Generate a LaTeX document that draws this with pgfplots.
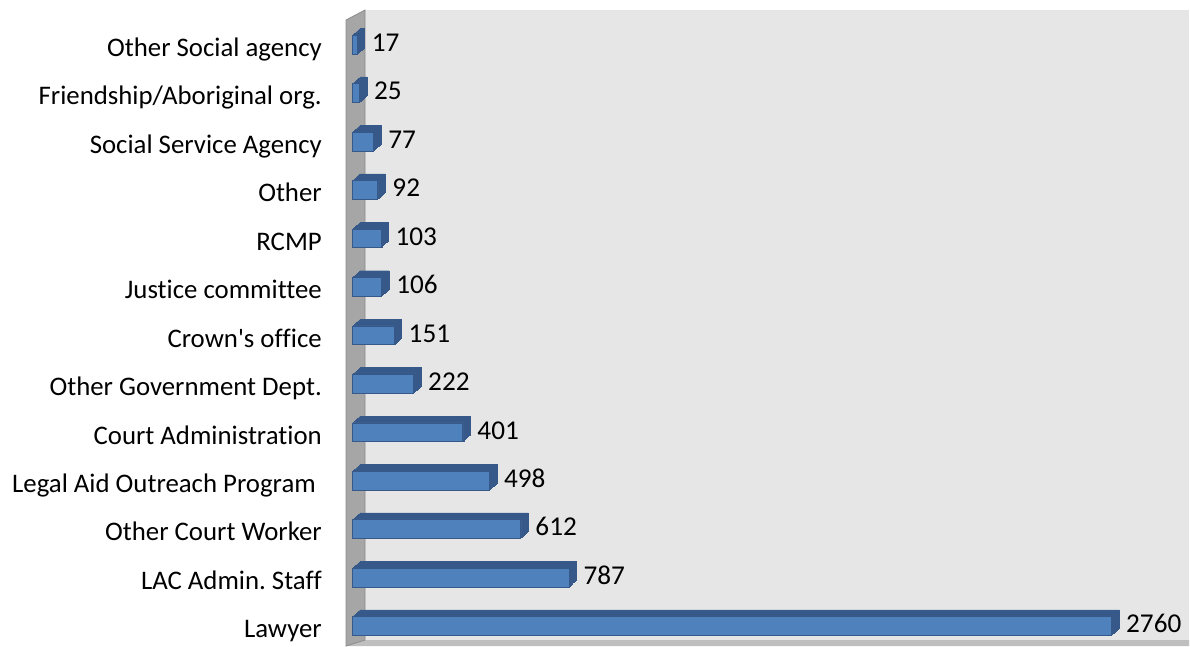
\documentclass[border=0pt]{standalone}
\usepackage{pgfplots}
\usepackage{pgfplotstable}
\pgfplotsset{compat=1.18}
\usepackage{fontspec}
\setmainfont{Carlito}[Ligatures={NoCommon,NoContextual,NoRequired}, Contextuals={NoAlternate}]
\frenchspacing
\definecolor{backwall}{HTML}{E6E6E6}
\definecolor{sidewall}{HTML}{A6A6A6}
\definecolor{sideedge}{HTML}{8C8C8C}
\definecolor{floorc}{HTML}{BFBFBF}
\definecolor{barfront}{HTML}{4F81BD}
\definecolor{bardepth}{HTML}{3A5F8E}
\definecolor{baredge}{HTML}{36598A}
\pgfplotstableread{
c v
0 2760
1 787
2 612
3 498
4 401
5 222
6 151
7 106
8 103
9 92
10 77
11 25
12 17
}\bardata
\begin{document}
\begin{tikzpicture}
\begin{axis}[
  scale only axis,
  width=418.25pt, height=318pt,
  xmin=0, xmax=3041.8,
  ymin=-0.413, ymax=12.714,
  clip=false,
  axis line style={draw=none},
  tick style={draw=none},
  xtick=\empty,
  ytick={0,...,12},
  yticklabels={Lawyer, LAC Admin.\ Staff, Other Court Worker, {Legal Aid Outreach Program\rule{3pt}{0pt}}, Court Administrat\kern0pt ion, Other Government Dept., Crown\textquotesingle s of\kern0pt f\kern0pt ice, Just\kern0pt ice committee, RCMP, Other, Social Service Agency, Friendship/Aboriginal org., Other Social agency},
  yticklabel style={font=\fontsize{13.4}{15}\selectfont, anchor=base east, inner sep=0pt, xshift=-10.9pt, yshift=-5.9pt, text=black},
  /pgf/number format/assume math mode=true,
  /pgf/number format/1000 sep={},
  /pgf/number format/fixed,
  /pgf/number format/precision=0,
  xbar, bar shift=0pt, bar width=0.386,
]
% walls
\fill[backwall] (axis cs:45.5,12.714) rectangle (axis cs:3041.8,-0.289);
\fill[floorc] (axis cs:45.5,-0.289) -- (axis cs:3041.8,-0.289) -- (axis cs:3041.8,-0.413) -- (axis cs:-23.6,-0.413) -- cycle;
\fill[sidewall, draw=sideedge, line width=0.4pt] (axis cs:-23.6,12.508) -- (axis cs:45.5,12.714) -- (axis cs:45.5,-0.289) -- (axis cs:-23.6,-0.413) -- cycle;
\coordinate (bbsw) at (axis cs:-1281.8,-0.413);
\coordinate (bbne) at (axis cs:3045.45,12.921);
% depth copies
\pgfplotsinvokeforeach{8,7,6,5,4,3,2,1}{
\addplot[xbar, bar shift=0pt, fill=bardepth, draw=baredge, line width=0.2pt, xshift=#1*0.469pt, yshift=#1*0.425pt, forget plot] table[x=v, y=c] {\bardata};
}
% front faces
\addplot[xbar, bar shift=0pt, fill=barfront, draw=baredge, line width=0.3pt,
  point meta=x,
  nodes near coords,
  nodes near coords style={font=\fontsize{13.6}{15}\selectfont, anchor=base west, inner sep=0pt, xshift=7.2pt, yshift=-3.4pt, text=black}] table[x=v, y=c] {\bardata};
\end{axis}
\pgfresetboundingbox
\path[use as bounding box] (bbsw) rectangle (bbne);
\end{tikzpicture}
\end{document}
